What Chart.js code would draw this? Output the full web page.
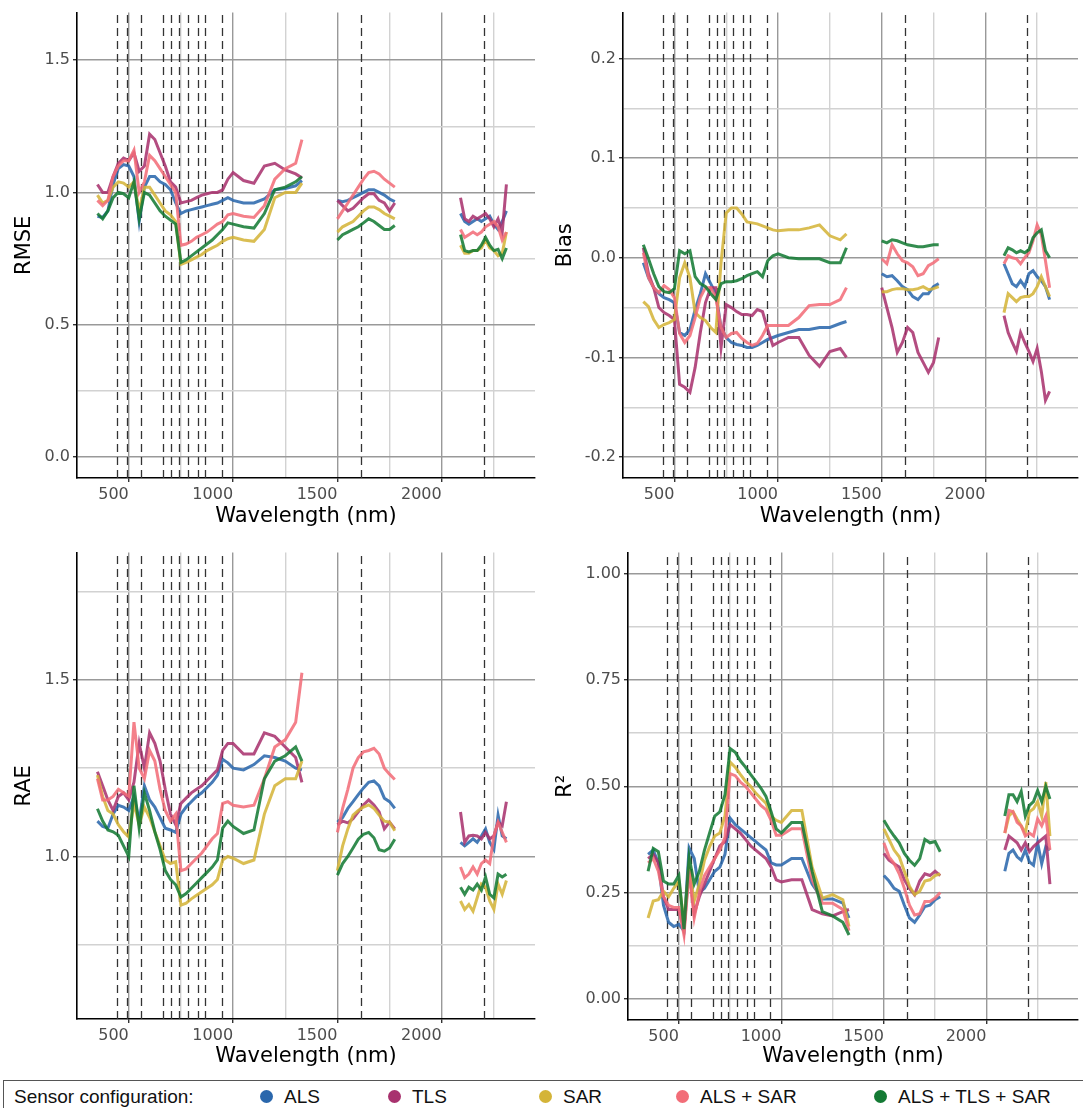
<!DOCTYPE html>
<html>
<head>
<meta charset="utf-8">
<title>Sensor configuration error metrics by wavelength</title>
<script src="https://cdn.jsdelivr.net/npm/chart.js@4.4.1/dist/chart.umd.min.js"></script>
<style>
  body { margin: 0; background: #fff; width: 1083px; height: 1108px; overflow: hidden; position: relative; }
  .panel { position: absolute; }
  #legend {
    position: absolute; left: 3px; top: 1080px; width: 1100px; height: 40px;
    border: 1px solid #555; box-sizing: border-box;
    font-family: 'Liberation Sans', Arial, sans-serif; font-size: 19px; color: #111;
  }
  #legend span { position: absolute; top: 5px; white-space: nowrap; }
  #legend i { position: absolute; top: 9px; width: 13px; height: 13px; border-radius: 50%; }
</style>
</head>
<body>
<div class="panel" style="left:0;top:0;width:541px;height:540px"><canvas id="rmseChart"></canvas></div>
<div class="panel" style="left:541px;top:0;width:542px;height:540px"><canvas id="biasChart"></canvas></div>
<div class="panel" style="left:0;top:540px;width:541px;height:540px"><canvas id="raeChart"></canvas></div>
<div class="panel" style="left:541px;top:540px;width:542px;height:540px"><canvas id="r2Chart"></canvas></div>
<div id="legend"></div>

<script>
// Wavelengths (nm); 1415 and 1940 are the removed water absorption bands (gaps)
const WAVELENGTH = [
  350, 375, 400, 425, 450, 475, 500, 525, 550, 575, 600, 625, 650, 675, 700, 725, 750, 775, 800, 825,
  850, 875, 900, 925, 950, 975, 1000, 1050, 1100, 1150, 1200, 1250, 1300, 1330,
  1415,
  1500, 1525, 1550, 1575, 1600, 1625, 1650, 1675, 1700, 1725, 1750, 1775,
  1940,
  2090, 2110, 2130, 2150, 2170, 2190, 2210, 2230, 2250, 2270, 2290, 2310
];

// Sentinel-2 band centres (dashed lines)
const S2_BANDS = [443, 492, 560, 665, 704, 740, 783, 833, 865, 945, 1614, 2202];

const CONFIGS = ['ALS', 'TLS', 'SAR', 'ALS + SAR', 'ALS + TLS + SAR'];

const X_MAJOR = [500, 1000, 1500, 2000];
const X_MINOR = [750, 1250, 1750, 2250];

// RMSE
const rmseALS = [
  0.91, 0.905, 0.93, 1.03, 1.09, 1.105, 1.10, 1.06, 0.89, 1.02, 1.06, 1.06, 1.04, 1.03, 1.01, 0.96, 0.92, 0.93, 0.935, 0.94,
  0.945, 0.95, 0.955, 0.96, 0.97, 0.98, 0.97, 0.96, 0.96, 0.975, 1.01, 1.015, 1.025, 1.045,
  null,
  0.97, 0.965, 0.97, 0.98, 0.99, 1.0, 1.01, 1.01, 1.0, 0.99, 0.975, 0.965,
  null,
  0.92, 0.89, 0.88, 0.89, 0.90, 0.89, 0.90, 0.91, 0.88, 0.86, 0.89, 0.93
];
const rmseTLS = [
  1.03, 1.0, 1.0, 1.06, 1.11, 1.13, 1.12, 1.15, 1.08, 1.10, 1.22, 1.20, 1.15, 1.10, 1.04, 1.02, 0.96, 0.965, 0.97, 0.98,
  0.99, 0.995, 1.0, 1.0, 1.01, 1.05, 1.075, 1.045, 1.035, 1.10, 1.11, 1.085, 1.07, 1.055,
  null,
  0.97, 0.95, 0.93, 0.94, 0.96, 0.98, 0.995, 0.995, 0.97, 0.96, 0.93, 0.96,
  null,
  0.98, 0.90, 0.89, 0.91, 0.90, 0.91, 0.92, 0.90, 0.87, 0.90, 0.85, 1.03
];
const rmseSAR = [
  0.99, 0.96, 0.97, 1.02, 1.04, 1.035, 1.02, 1.04, 0.93, 1.02, 1.02, 0.99, 0.96, 0.93, 0.915, 0.89, 0.728, 0.735, 0.745, 0.755,
  0.765, 0.78, 0.79, 0.80, 0.815, 0.825, 0.83, 0.82, 0.815, 0.86, 0.98, 1.0, 1.0, 1.035,
  null,
  0.85, 0.87, 0.88, 0.89, 0.91, 0.93, 0.945, 0.945, 0.935, 0.92, 0.91, 0.90,
  null,
  0.80, 0.77, 0.77, 0.78, 0.78, 0.79, 0.82, 0.79, 0.78, 0.76, 0.77, 0.85
];
const rmseALSSAR = [
  0.97, 0.95, 0.97, 1.06, 1.10, 1.12, 1.12, 1.16, 1.0, 1.04, 1.14, 1.12, 1.09, 1.06, 1.03, 1.0, 0.80, 0.805, 0.815, 0.83,
  0.84, 0.85, 0.865, 0.88, 0.89, 0.915, 0.92, 0.91, 0.905, 0.95, 1.05, 1.09, 1.11, 1.20,
  null,
  0.90, 0.93, 0.96, 0.99, 1.02, 1.05, 1.075, 1.08, 1.07, 1.05, 1.035, 1.02,
  null,
  0.86, 0.83, 0.84, 0.85, 0.84, 0.85, 0.87, 0.88, 0.89, 0.87, 0.82, 0.85
];
const rmseALL = [
  0.92, 0.90, 0.93, 0.98, 1.0, 0.995, 0.98, 1.04, 0.90, 1.0, 0.99, 0.96, 0.93, 0.91, 0.895, 0.88, 0.735, 0.745, 0.76, 0.775,
  0.79, 0.805, 0.82, 0.84, 0.86, 0.885, 0.88, 0.87, 0.865, 0.92, 1.01, 1.02, 1.04, 1.06,
  null,
  0.82, 0.84, 0.85, 0.86, 0.87, 0.885, 0.90, 0.89, 0.875, 0.86, 0.86, 0.875,
  null,
  0.84, 0.78, 0.775, 0.78, 0.78, 0.80, 0.83, 0.80, 0.78, 0.785, 0.75, 0.79
];

// Bias
const biasALS = [
  -0.005, -0.02, -0.03, -0.036, -0.04, -0.042, -0.045, -0.075, -0.078, -0.072, -0.052, -0.036, -0.016, -0.026, -0.036, -0.07, -0.08, -0.085, -0.087, -0.088,
  -0.09, -0.09, -0.088, -0.085, -0.082, -0.08, -0.078, -0.075, -0.072, -0.072, -0.07, -0.07, -0.066, -0.064,
  null,
  -0.016, -0.019, -0.018, -0.023, -0.029, -0.032, -0.039, -0.042, -0.036, -0.036, -0.029, -0.026,
  null,
  -0.006, -0.016, -0.026, -0.029, -0.023, -0.029, -0.016, -0.013, -0.019, -0.023, -0.029, -0.042
];
const biasTLS = [
  0.01, -0.016, -0.03, -0.05, -0.055, -0.058, -0.062, -0.127, -0.13, -0.135, -0.11, -0.075, -0.045, -0.03, -0.03, -0.09, -0.047, -0.05, -0.054, -0.057,
  -0.057, -0.058, -0.052, -0.054, -0.072, -0.088, -0.085, -0.08, -0.08, -0.098, -0.109, -0.094, -0.091, -0.10,
  null,
  -0.03, -0.05, -0.07, -0.095, -0.085, -0.07, -0.075, -0.095, -0.105, -0.115, -0.105, -0.08,
  null,
  -0.058, -0.075, -0.085, -0.094, -0.075, -0.085, -0.094, -0.104, -0.091, -0.114, -0.143, -0.134
];
const biasSAR = [
  -0.044, -0.049, -0.062, -0.07, -0.067, -0.065, -0.062, -0.02, -0.005, -0.02, -0.055, -0.06, -0.063, -0.07, -0.075, -0.005, 0.045, 0.05, 0.05, 0.044,
  0.036, 0.035, 0.034, 0.032, 0.03, 0.028, 0.027, 0.028, 0.028, 0.03, 0.033, 0.022, 0.018, 0.024,
  null,
  -0.034, -0.034, -0.032, -0.031, -0.031, -0.032, -0.032, -0.031, -0.029, -0.032, -0.031, -0.029,
  null,
  -0.055, -0.036, -0.04, -0.044, -0.04, -0.039, -0.039, -0.036, -0.029, -0.019, -0.029, -0.039
];
const biasALSSAR = [
  0.005, -0.02, -0.03, -0.035, -0.028, -0.032, -0.04, -0.076, -0.085, -0.078, -0.06, -0.04, -0.03, -0.03, -0.04, -0.07, -0.08, -0.076, -0.075, -0.081,
  -0.085, -0.088, -0.086, -0.078, -0.068, -0.068, -0.068, -0.068, -0.06, -0.048, -0.047, -0.047, -0.042, -0.03,
  null,
  -0.001, -0.006, 0.013, 0.004, -0.003, -0.005, -0.009, -0.018, -0.016, -0.008, -0.005, -0.001,
  null,
  -0.006, 0.002, 0.0, -0.001, -0.006, 0.0, 0.005, 0.017, 0.033, 0.023, -0.003, -0.03
];
const biasALL = [
  0.013, -0.001, -0.016, -0.029, -0.034, -0.035, -0.031, 0.007, 0.004, 0.007, -0.019, -0.026, -0.029, -0.036, -0.042, -0.026, -0.024, -0.024, -0.023, -0.021,
  -0.018, -0.016, -0.014, -0.019, -0.003, 0.002, 0.004, 0.0, -0.001, -0.001, -0.001, -0.005, -0.005, 0.01,
  null,
  0.017, 0.015, 0.018, 0.017, 0.015, 0.013, 0.012, 0.011, 0.011, 0.012, 0.013, 0.013,
  null,
  0.002, 0.01, 0.008, 0.005, 0.007, 0.005, 0.008, 0.02, 0.025, 0.028, 0.007, 0.0
];

// RAE
const raeALS = [
  1.10, 1.085, 1.08, 1.12, 1.145, 1.14, 1.13, 1.17, 1.10, 1.20, 1.16, 1.14, 1.11, 1.08, 1.075, 1.068, 1.12, 1.14, 1.155, 1.17,
  1.18, 1.195, 1.21, 1.23, 1.275, 1.265, 1.25, 1.245, 1.26, 1.285, 1.28, 1.27, 1.25, 1.245,
  null,
  1.097, 1.11, 1.136, 1.155, 1.175, 1.194, 1.21, 1.214, 1.20, 1.165, 1.155, 1.136,
  null,
  1.04, 1.03, 1.04, 1.05, 1.04, 1.058, 1.078, 1.04, 1.02, 1.117, 1.058, 1.05
];
const raeTLS = [
  1.24, 1.20, 1.16, 1.13, 1.17, 1.18, 1.16, 1.21, 1.32, 1.25, 1.35, 1.32, 1.27, 1.19, 1.12, 1.09, 1.15, 1.165, 1.18, 1.19,
  1.20, 1.215, 1.23, 1.245, 1.30, 1.32, 1.32, 1.29, 1.29, 1.35, 1.34, 1.31, 1.28, 1.21,
  null,
  1.09, 1.10, 1.095, 1.107, 1.126, 1.146, 1.16, 1.146, 1.126, 1.078, 1.097, 1.078,
  null,
  1.126, 1.04, 1.058, 1.06, 1.058, 1.05, 1.068, 1.05, 1.058, 1.097, 1.087, 1.155
];
const raeSAR = [
  1.23, 1.17, 1.13, 1.12, 1.09, 1.07, 1.055, 1.15, 1.09, 1.14, 1.11, 1.07, 1.03, 0.99, 0.98, 0.985, 0.862, 0.868, 0.88, 0.89,
  0.90, 0.91, 0.92, 0.935, 0.99, 1.0, 0.995, 0.98, 0.99, 1.12, 1.20, 1.22, 1.22, 1.27,
  null,
  0.96, 1.03, 1.078, 1.117, 1.13, 1.14, 1.146, 1.136, 1.117, 1.10, 1.097, 1.073,
  null,
  0.874, 0.85, 0.864, 0.845, 0.883, 0.922, 0.913, 0.874, 0.85, 0.922, 0.893, 0.932
];
const raeALSSAR = [
  1.22, 1.16, 1.16, 1.17, 1.19, 1.18, 1.17, 1.38, 1.25, 1.22, 1.30, 1.27, 1.19, 1.13, 1.10, 1.12, 0.96, 0.965, 0.98, 0.995,
  1.01, 1.03, 1.05, 1.065, 1.15, 1.155, 1.145, 1.14, 1.145, 1.22, 1.31, 1.33, 1.38, 1.52,
  null,
  1.068, 1.136, 1.19, 1.25, 1.28, 1.296, 1.30, 1.306, 1.29, 1.25, 1.233, 1.218,
  null,
  0.97, 0.94, 0.95, 0.97, 0.95, 0.98, 0.99, 0.98, 1.058, 1.097, 1.068, 1.04
];
const raeALL = [
  1.135, 1.10, 1.075, 1.07, 1.06, 1.03, 1.0, 1.2, 1.08, 1.18, 1.13, 1.07, 1.02, 0.96, 0.935, 0.92, 0.885, 0.895, 0.91, 0.925,
  0.94, 0.955, 0.97, 0.99, 1.08, 1.10, 1.085, 1.065, 1.075, 1.22, 1.27, 1.285, 1.31, 1.27,
  null,
  0.947, 0.98, 1.0, 1.024, 1.049, 1.063, 1.068, 1.053, 1.019, 1.015, 1.024, 1.049,
  null,
  0.913, 0.893, 0.913, 0.905, 0.922, 0.905, 0.942, 0.893, 0.883, 0.95, 0.942, 0.95
];

// R²
const r2ALS = [
  0.34, 0.35, 0.32, 0.22, 0.18, 0.17, 0.175, 0.16, 0.355, 0.33, 0.25, 0.26, 0.28, 0.30, 0.31, 0.34, 0.425, 0.41, 0.40, 0.39,
  0.38, 0.37, 0.36, 0.35, 0.32, 0.315, 0.315, 0.33, 0.33, 0.27, 0.235, 0.235, 0.225, 0.19,
  null,
  0.29, 0.277, 0.26, 0.253, 0.22, 0.19, 0.18, 0.197, 0.217, 0.22, 0.233, 0.24,
  null,
  0.30, 0.342, 0.35, 0.334, 0.326, 0.35, 0.322, 0.314, 0.367, 0.318, 0.358, 0.35
];
const r2TLS = [
  0.33, 0.34, 0.32, 0.24, 0.21, 0.21, 0.21, 0.16, 0.31, 0.20, 0.24, 0.27, 0.30, 0.33, 0.36, 0.37, 0.41, 0.40, 0.39, 0.375,
  0.36, 0.35, 0.34, 0.33, 0.31, 0.28, 0.275, 0.28, 0.28, 0.21, 0.20, 0.195, 0.205, 0.21,
  null,
  0.342, 0.326, 0.318, 0.31, 0.28, 0.26, 0.245, 0.277, 0.294, 0.29, 0.30, 0.29,
  null,
  0.35, 0.383, 0.375, 0.367, 0.35, 0.367, 0.346, 0.358, 0.367, 0.375, 0.383, 0.27
];
const r2SAR = [
  0.19, 0.23, 0.233, 0.253, 0.24, 0.26, 0.277, 0.18, 0.31, 0.23, 0.27, 0.326, 0.358, 0.383, 0.39, 0.43, 0.557, 0.545, 0.528, 0.512,
  0.50, 0.484, 0.472, 0.46, 0.43, 0.42, 0.415, 0.443, 0.443, 0.31, 0.237, 0.245, 0.233, 0.17,
  null,
  0.40, 0.375, 0.35, 0.334, 0.30, 0.265, 0.245, 0.253, 0.277, 0.28, 0.29, 0.294,
  null,
  0.39, 0.43, 0.44, 0.423, 0.407, 0.39, 0.44, 0.447, 0.464, 0.43, 0.51, 0.383
];
const r2ALSSAR = [
  0.32, 0.33, 0.30, 0.24, 0.22, 0.215, 0.215, 0.15, 0.30, 0.19, 0.25, 0.29, 0.31, 0.33, 0.35, 0.38, 0.53, 0.525, 0.51, 0.50,
  0.485, 0.47, 0.455, 0.445, 0.42, 0.385, 0.385, 0.40, 0.40, 0.28, 0.225, 0.225, 0.21, 0.16,
  null,
  0.367, 0.334, 0.318, 0.294, 0.26, 0.22, 0.197, 0.20, 0.229, 0.229, 0.237, 0.25,
  null,
  0.39, 0.443, 0.44, 0.415, 0.407, 0.383, 0.39, 0.383, 0.423, 0.407, 0.43, 0.35
];
const r2ALL = [
  0.30, 0.354, 0.346, 0.277, 0.27, 0.27, 0.29, 0.164, 0.334, 0.27, 0.30, 0.35, 0.39, 0.43, 0.44, 0.48, 0.589, 0.58, 0.56, 0.545,
  0.528, 0.512, 0.496, 0.476, 0.44, 0.40, 0.39, 0.415, 0.415, 0.30, 0.205, 0.195, 0.18, 0.15,
  null,
  0.42, 0.40, 0.383, 0.367, 0.342, 0.326, 0.314, 0.33, 0.375, 0.367, 0.37, 0.346,
  null,
  0.43, 0.48, 0.48, 0.464, 0.488, 0.43, 0.455, 0.464, 0.49, 0.464, 0.50, 0.47
];

// Y axis ticks per panel (labelled / unlabelled)
const RMSE_MAJOR = [0, 0.5, 1.0, 1.5];
const RMSE_MINOR = [0.25, 0.75, 1.25];
const BIAS_MAJOR = [-0.2, -0.1, 0, 0.1, 0.2];
const BIAS_MINOR = [-0.15, -0.05, 0.05, 0.15];
const RAE_MAJOR = [1.0, 1.5];
const RAE_MINOR = [0.75, 1.25, 1.75];
const R2_MAJOR = [0, 0.25, 0.5, 0.75, 1.0];
const R2_MINOR = [0.125, 0.375, 0.625, 0.875];

// Styling
const COLORS = ['#2a67ac', '#a8326e', '#d4b438', '#f26d78', '#147a34'];
const GRID_MAJOR = '#999999';
const GRID_MINOR = '#d2d2d2';
const TICK_COLOR = '#4d4d4d';

const bandLines = {
  id: 'bandLines',
  beforeDatasetsDraw(chart) {
    const { ctx, chartArea, scales: { x } } = chart;
    ctx.save();
    ctx.beginPath();
    ctx.rect(chartArea.left, chartArea.top, chartArea.width, chartArea.height);
    ctx.clip();
    ctx.strokeStyle = '#333';
    ctx.lineWidth = 1.3;
    ctx.setLineDash([8, 5]);
    S2_BANDS.forEach(b => {
      const px = Math.round(x.getPixelForValue(b)) + 0.5;
      ctx.beginPath();
      ctx.moveTo(px, chartArea.bottom);
      ctx.lineTo(px, chartArea.top);
      ctx.stroke();
    });
    ctx.restore();
  }
};

function makePanel(id, opts) {
  const yTicks = opts.major.concat(opts.minor);
  const datasets = opts.series.map((vals, i) => ({
    label: CONFIGS[i],
    data: WAVELENGTH.map((w, j) => ({ x: w, y: vals[j] })),
    borderColor: COLORS[i] + 'dd',
    backgroundColor: COLORS[i],
    borderWidth: 3,
    pointRadius: 0,
    tension: 0,
    spanGaps: false,
    order: CONFIGS.length - i
  }));

  return new Chart(document.getElementById(id), {
    type: 'line',
    data: { datasets },
    plugins: [bandLines],
    options: {
      responsive: true,
      maintainAspectRatio: false,
      animation: false,
      layout: { padding: opts.padding },
      plugins: { legend: { display: false }, tooltip: { enabled: false } },
      scales: {
        x: {
          type: 'linear',
          min: 252,
          max: 2447,
          afterBuildTicks: s => { s.ticks = X_MAJOR.concat(X_MINOR).sort((a, b) => a - b).map(v => ({ value: v })); },
          afterFit: s => { s.height = opts.xHeight; },
          grid: {
            color: c => X_MAJOR.includes(c.tick && c.tick.value) ? GRID_MAJOR : GRID_MINOR,
            tickColor: c => X_MAJOR.includes(c.tick && c.tick.value) ? '#333' : 'rgba(0,0,0,0)',
            lineWidth: 1.4,
            tickLength: 4
          },
          border: { display: true, color: '#000', width: 1.6 },
          ticks: {
            autoSkip: false,
            maxRotation: 0,
            align: 'end',
            padding: 3,
            color: TICK_COLOR,
            font: { family: 'DejaVu Sans', size: 16 },
            callback: v => X_MAJOR.includes(v) ? String(v) : ''
          },
          title: {
            display: true,
            text: 'Wavelength (nm)',
            color: '#000',
            font: { family: 'DejaVu Sans', size: 21 },
            padding: { top: 0, bottom: 11 }
          }
        },
        y: {
          type: 'linear',
          min: opts.min,
          max: opts.max,
          afterBuildTicks: s => { s.ticks = yTicks.slice().sort((a, b) => a - b).map(v => ({ value: v })); },
          afterFit: s => { s.width = opts.yWidth; },
          grid: {
            color: c => opts.major.includes(c.tick && c.tick.value) ? GRID_MAJOR : GRID_MINOR,
            tickColor: c => opts.major.includes(c.tick && c.tick.value) ? '#333' : 'rgba(0,0,0,0)',
            lineWidth: 1.4,
            tickLength: 4
          },
          border: { display: true, color: '#000', width: 1.6 },
          ticks: {
            autoSkip: false,
            padding: 3,
            color: TICK_COLOR,
            font: { family: 'DejaVu Sans', size: 16 },
            callback: v => opts.major.includes(v) ? v.toFixed(opts.decimals) : ''
          },
          title: {
            display: true,
            text: opts.title,
            color: '#000',
            font: { family: 'DejaVu Sans', size: 21 },
            padding: { top: 12, bottom: 0 }
          }
        }
      }
    }
  });
}

makePanel('rmseChart', {
  title: 'RMSE', min: -0.08, max: 1.68, major: RMSE_MAJOR, minor: RMSE_MINOR, decimals: 1,
  series: [rmseALS, rmseTLS, rmseSAR, rmseALSSAR, rmseALL],
  padding: { left: 0, top: 12, right: 6, bottom: 0 }, yWidth: 77, xHeight: 62
});
makePanel('biasChart', {
  title: 'Bias', min: -0.221, max: 0.246, major: BIAS_MAJOR, minor: BIAS_MINOR, decimals: 1,
  series: [biasALS, biasTLS, biasSAR, biasALSSAR, biasALL],
  padding: { left: 0, top: 12, right: 5, bottom: 0 }, yWidth: 82, xHeight: 62
});
makePanel('raeChart', {
  title: 'RAE', min: 0.54, max: 1.86, major: RAE_MAJOR, minor: RAE_MINOR, decimals: 1,
  series: [raeALS, raeTLS, raeSAR, raeALSSAR, raeALL],
  padding: { left: 0, top: 12, right: 6, bottom: 0 }, yWidth: 77, xHeight: 61
});
makePanel('r2Chart', {
  title: 'R²', min: -0.05, max: 1.05, major: R2_MAJOR, minor: R2_MINOR, decimals: 2,
  series: [r2ALS, r2TLS, r2SAR, r2ALSSAR, r2ALL],
  padding: { left: 0, top: 12, right: 5, bottom: 0 }, yWidth: 87, xHeight: 60
});

// Legend strip along the bottom
const LEGEND_DOT_X = [266, 394, 545, 682, 880];
const legend = document.getElementById('legend');
legend.innerHTML = '<span style="left:10px">Sensor configuration:</span>' +
  CONFIGS.map((name, i) =>
    `<i style="left:${LEGEND_DOT_X[i] - 10}px;background:${COLORS[i]}"></i>` +
    `<span style="left:${LEGEND_DOT_X[i] + 14}px">${name}</span>`
  ).join('');
</script>
</body>
</html>
